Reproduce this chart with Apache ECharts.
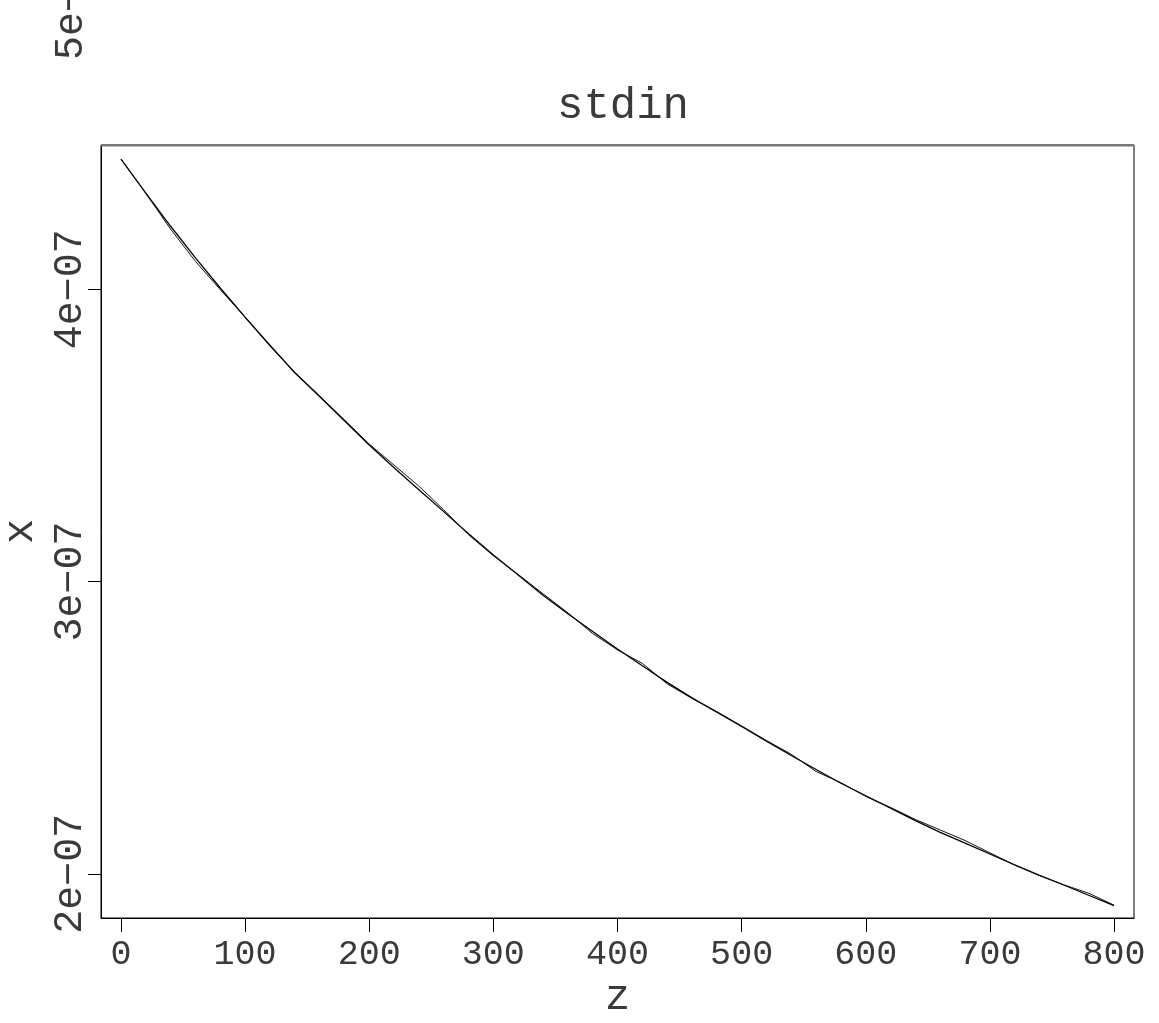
<!DOCTYPE html>
<html>
<head>
<meta charset="utf-8">
<script src="https://cdn.jsdelivr.net/npm/echarts@6/dist/echarts.min.js"></script>
<style>
html,body{margin:0;padding:0;background:#fff;}
#chart{width:1159px;height:1023px;}
</style>
</head>
<body>
<div id="chart"></div>
<script>
// z positions (shared by both traces)
const zValues = [0,20,40,60,80,100,120,140,160,180,200,220,240,260,280,300,320,340,360,380,400,
  420,440,460,480,500,520,540,560,580,600,620,640,660,680,700,720,740,760,780,800];
// smooth trace, x in units of 1e-07
const xSmooth = [4.445,4.328,4.215,4.107,4.004,3.904,3.808,3.714,3.633,3.550,3.467,3.389,3.314,3.239,3.163,3.091,3.022,2.953,2.890,2.829,2.769,
  2.712,2.655,2.602,2.553,2.504,2.454,2.405,2.357,2.310,2.267,2.225,2.182,2.142,2.105,2.068,2.031,1.995,1.961,1.926,1.891];
// slightly wobbly trace, x in units of 1e-07
const xWobbly = [4.445,4.328,4.205,4.095,3.998,3.904,3.805,3.716,3.635,3.553,3.470,3.398,3.326,3.245,3.160,3.088,3.024,2.958,2.893,2.822,2.766,
  2.720,2.650,2.600,2.555,2.506,2.456,2.409,2.350,2.312,2.265,2.227,2.186,2.150,2.114,2.072,2.030,1.994,1.962,1.933,1.893];
const SCALE = 1e-7;
const xTicks = [0,100,200,300,400,500,600,700,800];
const yTicks = [2e-7,3e-7,4e-7];
const yTickLabels = ['2e\u221207','3e\u221207','4e\u221207'];
const titleText = 'stdin';
const xName = 'z';
const yName = 'x';

const FONT = '"Liberation Mono", "DejaVu Sans Mono", monospace';
const TXT = '#3a3a3a';
const smoothData = zValues.map((z,i)=>[z, xSmooth[i]*SCALE]);
const wobblyData = zValues.map((z,i)=>[z, xWobbly[i]*SCALE]);

const chart = echarts.init(document.getElementById('chart'), null, {renderer:'canvas'});
chart.setOption({
  animation:false,
  backgroundColor:'#fff',
  title:{
    text:titleText, left:618, textAlign:'center', top:79,
    textStyle:{fontFamily:FONT, fontSize:44, fontWeight:'normal', color:TXT}
  },
  grid:{left:101, right:25, top:145, bottom:105, show:true, borderColor:'#000', borderWidth:1,
        containLabel:false, outerBoundsMode:'none'},
  xAxis:{
    type:'value', min:-16.1, max:816.1,
    name:xName, nameLocation:'middle', nameGap:53,
    nameTextStyle:{fontFamily:FONT, fontSize:42, color:TXT},
    axisLine:{show:true, onZero:false, lineStyle:{color:'#000', width:1}},
    axisTick:{show:true, length:14, customValues:xTicks, lineStyle:{color:'#000'}},
    axisLabel:{customValues:xTicks, fontFamily:FONT, fontSize:35, color:TXT, margin:19},
    splitLine:{show:false}
  },
  yAxis:{
    type:'value', min:1.849e-7, max:4.493e-7,
    name:yName, nameLocation:'middle', nameGap:53, nameRotate:90,
    nameTextStyle:{fontFamily:FONT, fontSize:42, color:TXT},
    axisLine:{show:true, onZero:false, lineStyle:{color:'#000', width:1}},
    axisTick:{show:true, length:13, customValues:yTicks, lineStyle:{color:'#000'}},
    axisLabel:{
      customValues:yTicks, rotate:90, fontFamily:FONT, fontSize:40, color:TXT, margin:11,
      formatter:function(v){
        let best=0, d=Infinity;
        yTicks.forEach((t,i)=>{const dd=Math.abs(t-v); if(dd<d){d=dd;best=i;}});
        return yTickLabels[best];
      }
    },
    splitLine:{show:false}
  },
  graphic:[
    {type:'text', x:71, y:0, rotation:Math.PI/2,
     style:{text:'5e\u221207', fontFamily:FONT, fontSize:40, fill:TXT, align:'center', verticalAlign:'middle'}},
    {type:'line', shape:{x1:101, y1:145.5, x2:1134, y2:145.5}, style:{stroke:'#777', lineWidth:2}, z:100}
  ],
  series:[
    {type:'line', data:smoothData, showSymbol:false, symbol:'none', lineStyle:{color:'#000', width:1.3}},
    {type:'line', data:wobblyData, showSymbol:false, symbol:'none', lineStyle:{color:'#111', width:1}}
  ]
});
</script>
</body>
</html>
